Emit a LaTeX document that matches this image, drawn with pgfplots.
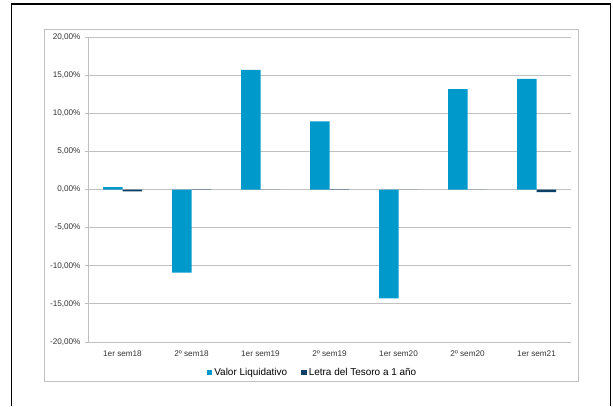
\documentclass[border=0pt]{standalone}
\usepackage{pgfplots}
\pgfplotsset{compat=1.18}
\usepackage{fontspec}
\setmainfont{Liberation Sans}
\definecolor{vlblue}{HTML}{0099CC}
\definecolor{letra}{HTML}{0B3F66}
\definecolor{gridgray}{HTML}{C0C0C0}
\definecolor{labgray}{HTML}{404040}

\pgfplotstableread{
x vl letra
0 0.30 -0.25
1 -10.90 -0.05
2 15.68 -0.03
3 8.92 0.03
4 -14.28 -0.03
5 13.18 -0.02
6 14.50 -0.33
}\datos

\begin{document}
\begin{tikzpicture}[x=1bp,y=1bp]
\path[use as bounding box] (0,0) rectangle (613,406);
% outer frame
\draw[black,line width=1.6bp] (11.5,0) -- (11.5,402) -- (610.5,402) -- (610.5,0);
% chart area frame
\draw[gridgray,line width=0.8bp] (44,25) rectangle (578,377);
\begin{axis}[
  at={(88bp,64bp)}, anchor=south west,
  scale only axis, width=483bp, height=305bp,
  ybar=0pt, bar width=19.5bp,
  xmin=-0.5, xmax=6.5, ymin=-20, ymax=20,
  xtick=data,
  xticklabels={1er sem18,2º sem18,1er sem19,2º sem19,1er sem20,2º sem20,1er sem21},
  ytick={-20,-15,...,20},
  yticklabel={\pgfmathprintnumber[fixed,fixed zerofill,precision=2,use comma]{\tick}\%},
  /pgf/number format/assume math mode=true,
  ymajorgrids, grid style={gridgray,line width=0.8bp},
  axis line style={gridgray,line width=0.8bp},
  axis x line*=bottom, axis y line*=left,
  x axis line style={-}, y axis line style={-},
  xtick style={draw=none},
  ytick style={gridgray,line width=0.8bp},
  tick align=outside, major tick length=3bp,
  tick label style={font=\fontsize{8.2}{9}\selectfont, text=labgray!80!black},
  xticklabel style={yshift=-2bp},
  yticklabel style={xshift=-1bp},
  legend style={at={(0.5,-0.072)}, anchor=north, xshift=-17bp, draw=none, fill=none,
    legend columns=-1, font=\fontsize{10}{12}\selectfont,
    /tikz/every even column/.append style={column sep=12bp}},
  legend image code/.code={\fill[#1] (0bp,-2.8bp) rectangle (5.6bp,2.8bp);},
  legend cell align=left,
]
\addplot[fill=vlblue, draw=none] table[x=x,y=vl] {\datos};
\addlegendentry{Valor Liquidativo}
\addplot[fill=letra, draw=none] table[x=x,y=letra] {\datos};
\addlegendentry{Letra del Tesoro a 1 año}
\end{axis}
\end{tikzpicture}
\end{document}
